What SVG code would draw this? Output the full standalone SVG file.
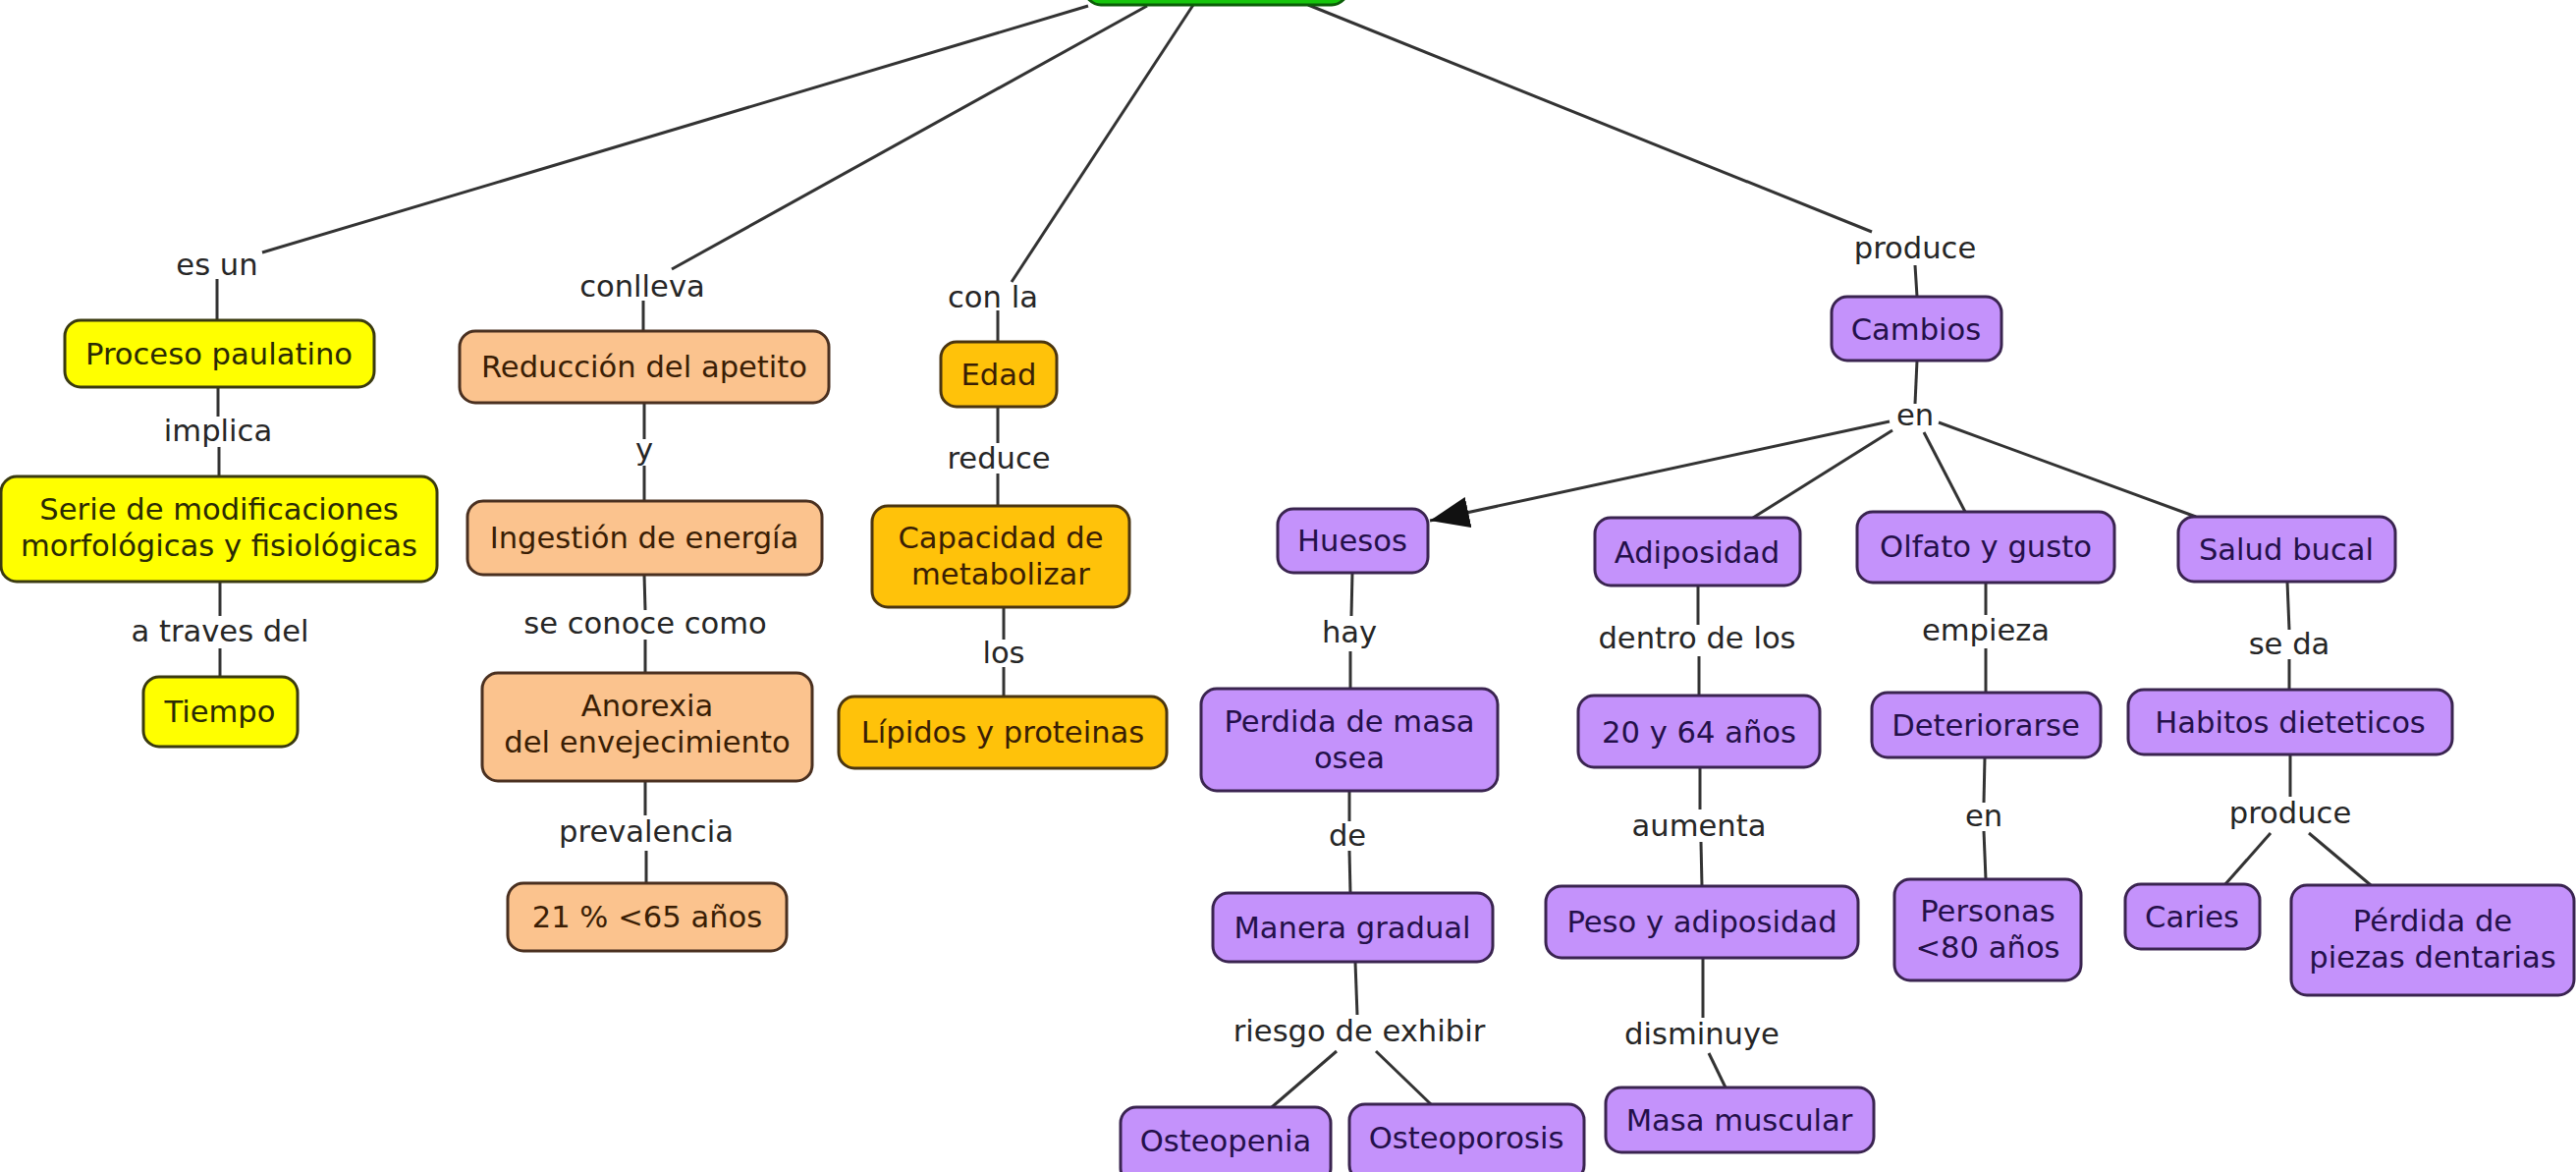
<svg xmlns="http://www.w3.org/2000/svg" width="2623" height="1193" viewBox="0 0 2623 1193">
<defs>
<style>
.bg{fill:#ffffff}
.n rect{stroke-width:3;rx:16;ry:16}
.yel rect{fill:#ffff00;stroke:#3a3a10}
.org rect{fill:#fbc38e;stroke:#4a3020}
.gld rect{fill:#ffc20a;stroke:#4a3510}
.pur rect{fill:#c492fb;stroke:#3a2450}
.grn rect{fill:#16c60c;stroke:#0b5e08}
.n text{font-family:"DejaVu Sans",Verdana,sans-serif;font-size:30.6px;text-anchor:middle}
.yel text{fill:#2a2a05}
.org text,.gld text{fill:#3a1e05}
.pur text{fill:#24104a}
.lab text{font-family:"DejaVu Sans",Verdana,sans-serif;font-size:30.6px;text-anchor:middle;fill:#262626}
.c line{stroke:#333333;stroke-width:3;fill:none}
</style>
<marker id="arr" markerUnits="userSpaceOnUse" markerWidth="44" markerHeight="34" refX="40" refY="16" orient="auto">
<path d="M0,0 L40,16 L0,32 Z" fill="#111111"/>
</marker>
</defs>
<rect class="bg" x="0" y="0" width="2623" height="1193"/>

<g id="connectors" class="c">
<line x1="1108" y1="6" x2="267" y2="257"/>
<line x1="1168" y1="6" x2="684" y2="274"/>
<line x1="1215" y1="5" x2="1030" y2="287"/>
<line x1="1332" y1="5" x2="1906" y2="236"/>
<line x1="221" y1="284" x2="221" y2="326"/>
<line x1="222" y1="394" x2="222" y2="424"/>
<line x1="223" y1="455" x2="223" y2="485"/>
<line x1="224" y1="592" x2="224" y2="627"/>
<line x1="224" y1="660" x2="224" y2="689"/>
<line x1="655" y1="306" x2="655" y2="337"/>
<line x1="656" y1="410" x2="656" y2="447"/>
<line x1="656" y1="474" x2="656" y2="510"/>
<line x1="656" y1="585" x2="657" y2="621"/>
<line x1="657" y1="651" x2="657" y2="685"/>
<line x1="657" y1="795" x2="657" y2="830"/>
<line x1="658" y1="866" x2="658" y2="899"/>
<line x1="1016" y1="316" x2="1016" y2="348"/>
<line x1="1016" y1="414" x2="1016" y2="451"/>
<line x1="1016" y1="482" x2="1016" y2="515"/>
<line x1="1022" y1="618" x2="1022" y2="651"/>
<line x1="1022" y1="679" x2="1022" y2="709"/>
<line x1="1950" y1="270" x2="1952" y2="302"/>
<line x1="1952" y1="367" x2="1950" y2="411"/>
<line x1="1924" y1="429" x2="1456" y2="530" marker-end="url(#arr)"/>
<line x1="1927" y1="438" x2="1785" y2="527"/>
<line x1="1959" y1="440" x2="2001" y2="521"/>
<line x1="1974" y1="430" x2="2236" y2="526"/>
<line x1="1377" y1="583" x2="1376" y2="627"/>
<line x1="1375" y1="663" x2="1375" y2="701"/>
<line x1="1374" y1="805" x2="1374" y2="836"/>
<line x1="1374" y1="866" x2="1375" y2="909"/>
<line x1="1380" y1="979" x2="1382" y2="1033"/>
<line x1="1361" y1="1070" x2="1295" y2="1127"/>
<line x1="1401" y1="1070" x2="1457" y2="1124"/>
<line x1="1729" y1="596" x2="1729" y2="636"/>
<line x1="1730" y1="668" x2="1730" y2="708"/>
<line x1="1731" y1="781" x2="1731" y2="824"/>
<line x1="1732" y1="857" x2="1733" y2="902"/>
<line x1="1734" y1="975" x2="1734" y2="1036"/>
<line x1="1740" y1="1072" x2="1757" y2="1107"/>
<line x1="2022" y1="593" x2="2022" y2="626"/>
<line x1="2022" y1="660" x2="2022" y2="705"/>
<line x1="2021" y1="771" x2="2020" y2="817"/>
<line x1="2020" y1="846" x2="2022" y2="895"/>
<line x1="2329" y1="592" x2="2331" y2="641"/>
<line x1="2331" y1="671" x2="2331" y2="702"/>
<line x1="2332" y1="768" x2="2332" y2="811"/>
<line x1="2312" y1="848" x2="2266" y2="900"/>
<line x1="2351" y1="848" x2="2414" y2="901"/>
</g>

<g id="labels" class="lab">
<text x="221" y="280">es un</text>
<text x="654" y="302">conlleva</text>
<text x="1011" y="313">con la</text>
<text x="1950" y="263">produce</text>
<text x="222" y="449">implica</text>
<text x="656" y="468">y</text>
<text x="1017" y="477">reduce</text>
<text x="1950" y="433">en</text>
<text x="224" y="653">a traves del</text>
<text x="657" y="645">se conoce como</text>
<text x="1022" y="675">los</text>
<text x="1374" y="654">hay</text>
<text x="1728" y="660">dentro de los</text>
<text x="2022" y="652">empieza</text>
<text x="2331" y="666">se da</text>
<text x="658" y="857">prevalencia</text>
<text x="1372" y="861">de</text>
<text x="1730" y="851">aumenta</text>
<text x="2020" y="841">en</text>
<text x="2332" y="838">produce</text>
<text x="1384" y="1060">riesgo de exhibir</text>
<text x="1733" y="1063">disminuye</text>
</g>

<g id="n-top" class="n grn"><rect x="1105" y="-60" width="267" height="65"/></g>

<g id="n-proceso" class="n yel"><rect x="66" y="326" width="315" height="68"/><text x="223" y="371">Proceso paulatino</text></g>
<g id="n-serie" class="n yel"><rect x="1" y="485" width="444" height="107"/><text x="223" y="529">Serie de modificaciones</text><text x="223" y="566">morfológicas y fisiológicas</text></g>
<g id="n-tiempo" class="n yel"><rect x="146" y="689" width="157" height="71"/><text x="224" y="735">Tiempo</text></g>

<g id="n-reduccion" class="n org"><rect x="468" y="337" width="376" height="73"/><text x="656" y="384">Reducción del apetito</text></g>
<g id="n-ingestion" class="n org"><rect x="476" y="510" width="361" height="75"/><text x="656" y="558">Ingestión de energía</text></g>
<g id="n-anorexia" class="n org"><rect x="491" y="685" width="336" height="110"/><text x="659" y="729">Anorexia</text><text x="659" y="766">del envejecimiento</text></g>
<g id="n-21" class="n org"><rect x="517" y="899" width="284" height="69"/><text x="659" y="944">21 % &lt;65 años</text></g>

<g id="n-edad" class="n gld"><rect x="958" y="348" width="118" height="66"/><text x="1017" y="392">Edad</text></g>
<g id="n-capacidad" class="n gld"><rect x="888" y="515" width="262" height="103"/><text x="1019" y="558">Capacidad de</text><text x="1019" y="595">metabolizar</text></g>
<g id="n-lipidos" class="n gld"><rect x="854" y="709" width="334" height="73"/><text x="1021" y="756">Lípidos y proteinas</text></g>

<g id="n-cambios" class="n pur"><rect x="1865" y="302" width="173" height="65"/><text x="1951" y="346">Cambios</text></g>
<g id="n-huesos" class="n pur"><rect x="1301" y="518" width="153" height="65"/><text x="1377" y="561">Huesos</text></g>
<g id="n-adiposidad" class="n pur"><rect x="1624" y="527" width="209" height="69"/><text x="1728" y="573">Adiposidad</text></g>
<g id="n-olfato" class="n pur"><rect x="1891" y="521" width="262" height="72"/><text x="2022" y="567">Olfato y gusto</text></g>
<g id="n-salud" class="n pur"><rect x="2218" y="526" width="221" height="66"/><text x="2328" y="570">Salud bucal</text></g>
<g id="n-perdida-osea" class="n pur"><rect x="1223" y="701" width="302" height="104"/><text x="1374" y="745">Perdida de masa</text><text x="1374" y="782">osea</text></g>
<g id="n-2064" class="n pur"><rect x="1607" y="708" width="246" height="73"/><text x="1730" y="756">20 y 64 años</text></g>
<g id="n-deteriorarse" class="n pur"><rect x="1906" y="705" width="233" height="66"/><text x="2022" y="749">Deteriorarse</text></g>
<g id="n-habitos" class="n pur"><rect x="2167" y="702" width="330" height="66"/><text x="2332" y="746">Habitos dieteticos</text></g>
<g id="n-manera" class="n pur"><rect x="1235" y="909" width="285" height="70"/><text x="1377" y="955">Manera gradual</text></g>
<g id="n-peso" class="n pur"><rect x="1574" y="902" width="318" height="73"/><text x="1733" y="949">Peso y adiposidad</text></g>
<g id="n-personas" class="n pur"><rect x="1929" y="895" width="190" height="103"/><text x="2024" y="938">Personas</text><text x="2024" y="975">&lt;80 años</text></g>
<g id="n-caries" class="n pur"><rect x="2164" y="900" width="137" height="66"/><text x="2232" y="944">Caries</text></g>
<g id="n-piezas" class="n pur"><rect x="2333" y="901" width="288" height="112"/><text x="2477" y="948">Pérdida de</text><text x="2477" y="985">piezas dentarias</text></g>
<g id="n-osteopenia" class="n pur"><rect x="1141" y="1127" width="214" height="78"/><text x="1248" y="1172">Osteopenia</text></g>
<g id="n-osteoporosis" class="n pur"><rect x="1374" y="1124" width="239" height="78"/><text x="1493" y="1169">Osteoporosis</text></g>
<g id="n-masa" class="n pur"><rect x="1635" y="1107" width="273" height="66"/><text x="1771" y="1151">Masa muscular</text></g>
</svg>
